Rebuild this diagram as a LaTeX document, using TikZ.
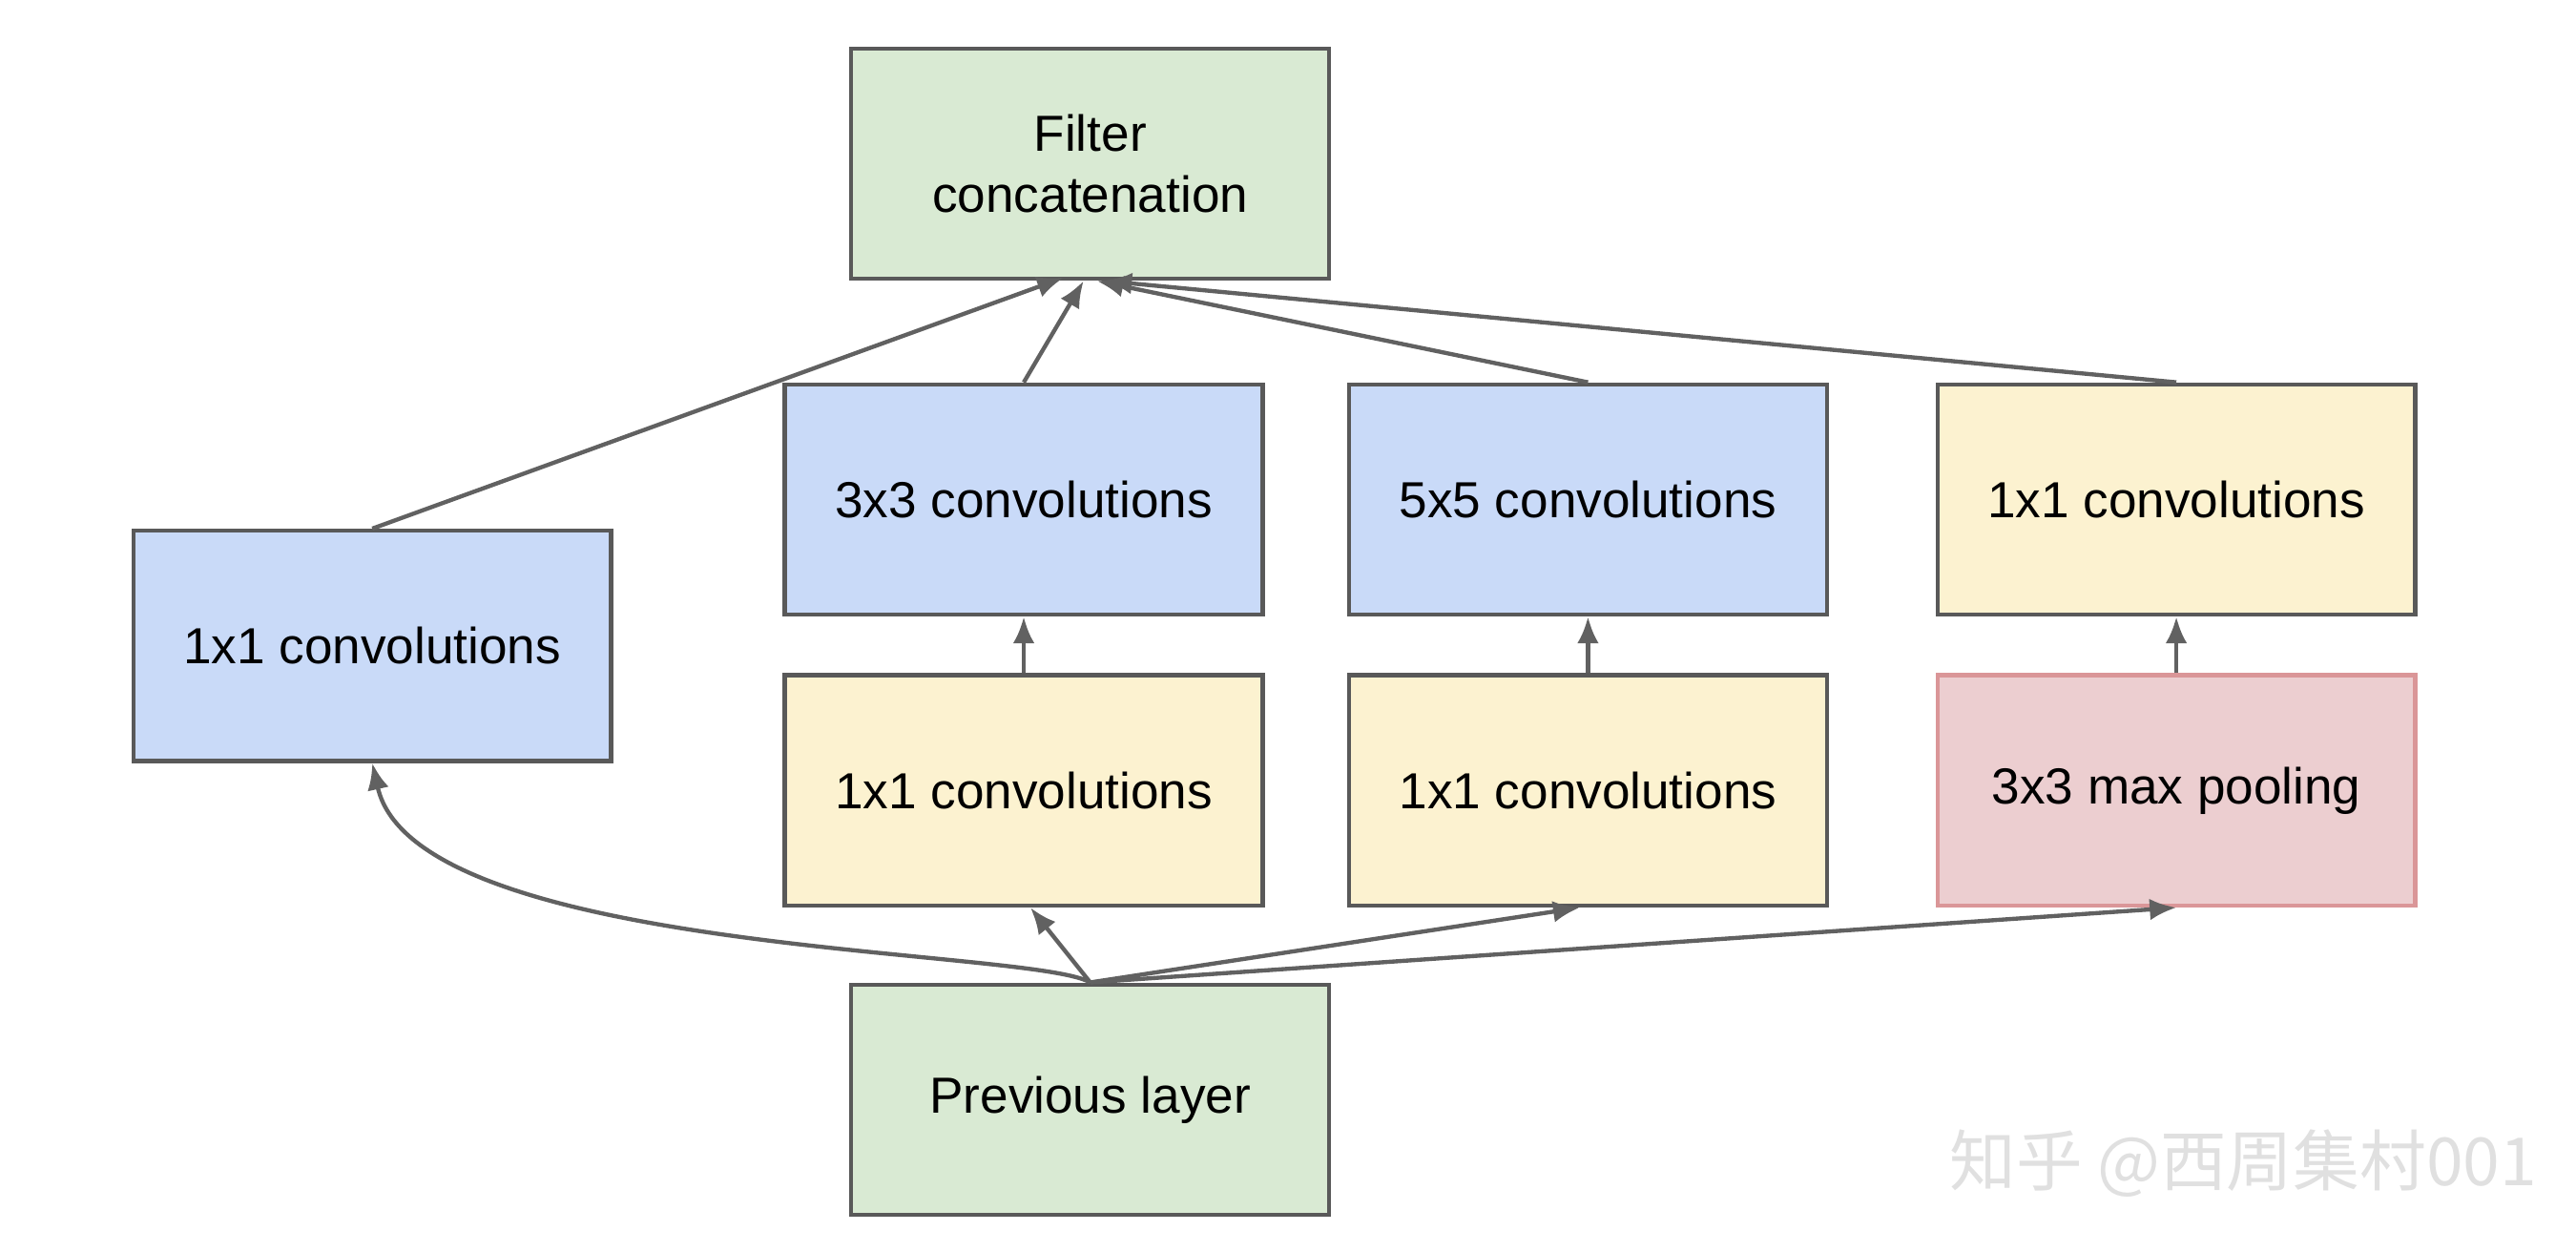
\documentclass[tikz,border=0pt]{standalone}
\usepackage{fontspec}
\setmainfont{Liberation Sans}
\newfontfamily\cjk{Noto Sans CJK SC}
\usetikzlibrary{arrows.meta}
\begin{document}
\begin{tikzpicture}[x=1pt,y=-1pt,
 box/.style={draw=black!65,line width=2.5pt,minimum width=287.5pt,minimum height=138.5pt,inner sep=0pt,align=center,font=\fontsize{30.5}{37}\selectfont},
 conn/.style={draw=black!62,line width=2.5pt,-{Latex[length=16pt,width=13pt]}},
 blue/.style={box,fill={rgb,255:red,201;green,218;blue,248}},
 yel/.style={box,fill={rgb,255:red,252;green,242;blue,208}},
 grn/.style={box,fill={rgb,255:red,217;green,234;blue,211}},
 red/.style={box,fill={rgb,255:red,236;green,206;blue,208},draw={rgb,255:red,218;green,150;blue,152}}]
\useasboundingbox (0,0) rectangle (1550,753);
\node[grn] (fc) at (656,98.5) {Filter\\concatenation};
\node[blue] (l1) at (224,388.5) {1x1 convolutions};
\node[blue] (c3) at (616,300.5) {3x3 convolutions};
\node[blue] (c5) at (955.5,300.5) {5x5 convolutions};
\node[yel] (r1) at (1309.5,300.5) {1x1 convolutions};
\node[yel] (m1) at (616,475.5) {1x1 convolutions};
\node[yel] (m2) at (955.5,475.5) {1x1 convolutions};
\node[red] (mp) at (1309.5,475.5) {3x3 max pooling};
\node[grn] (pl) at (656,661.5) {Previous layer};
\node[text=black!12,font=\cjk\fontsize{40}{44}\selectfont,anchor=east] (wm) at (1530,700) {知乎 @西周集村001};
\draw[conn] (pl.north) .. controls (620,570) and (250,575) .. (l1.south);
\draw[conn] (pl.north) -- ([xshift=4pt]m1.south);
\draw[conn] (pl.north) -- ([xshift=-5pt]m2.south);
\draw[conn] (pl.north) -- (mp.south);
\draw[conn] (m1.north) -- (c3.south);
\draw[conn] (m2.north) -- (c5.south);
\draw[conn] (mp.north) -- (r1.south);
\draw[conn] (l1.north) -- ([xshift=-16pt,yshift=2pt]fc.south);
\draw[conn] (c3.north) -- ([xshift=-4pt]fc.south);
\draw[conn] (c5.north) -- ([xshift=4pt]fc.south);
\draw[conn] (r1.north) -- ([xshift=9pt]fc.south);
\end{tikzpicture}
\end{document}
